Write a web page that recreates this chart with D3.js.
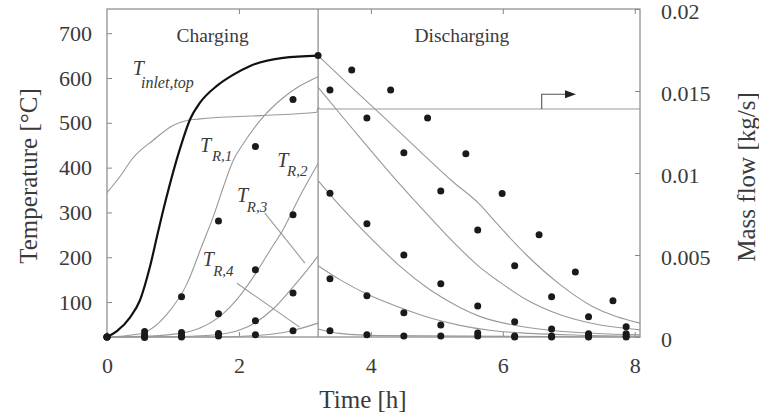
<!DOCTYPE html>
<html lang="en">
<head>
<meta charset="utf-8">
<title>Charging and discharging temperatures</title>
<script src="https://d3js.org/d3.v7.min.js"></script>
<style>
  body { margin: 0; background: #fff; }
  svg text { font-family: 'Liberation Serif', 'Times New Roman', serif; fill: #3a3a3a; }
</style>
</head>
<body>
<div id="chart"></div>
<script>

/* Data */
/* ==== */

// Simulated temperatures, charging (time in h, temperature in °C)
var inletTime = [0, 0.15, 0.35, 0.5, 0.65, 0.77, 0.89, 1.11, 1.26, 1.41, 1.67, 1.91, 2.17, 2.67, 3.2];
var inletTemp = [22, 35, 66, 104, 178, 254, 327, 444, 508, 545, 583, 607, 627, 645, 650];

var simR1Time = [0, 0.35, 0.55, 0.91, 1.21, 1.45, 1.61, 1.76, 1.91, 2.06, 2.32, 2.67, 2.92, 3.2];
var simR1Temp = [22, 26, 31, 73, 140, 230, 290, 355, 415, 452, 505, 556, 582, 603];
var simR2Time = [0, 0.65, 1.11, 1.41, 1.71, 2.02, 2.26, 2.47, 2.67, 2.92, 3.2];
var simR2Temp = [22, 24, 30, 42, 68, 115, 165, 215, 262, 335, 409];
var simR3Time = [0, 1.11, 1.71, 2.02, 2.26, 2.52, 2.77, 3.0, 3.2];
var simR3Temp = [22, 23, 28, 38, 55, 85, 125, 165, 203];
var simR4Time = [0, 1.71, 2.32, 2.77, 3.2];
var simR4Temp = [22, 22, 26, 35, 53];

// Simulated temperatures, discharging
var dis1Time = [3.2, 3.68, 4.18, 4.74, 5.24, 5.65, 5.85, 6.36, 6.86, 7.36, 8.08];
var dis1Temp = [650, 583, 515, 437, 369, 318, 285, 205, 140, 90, 53];
var dis2Time = [3.2, 3.68, 4.39, 4.89, 5.35, 5.65, 5.95, 6.36, 6.86, 7.36, 8.08];
var dis2Temp = [579, 494, 371, 290, 219, 178, 145, 105, 72, 52, 38];
var dis3Time = [3.2, 3.53, 3.83, 4.14, 4.44, 4.89, 5.35, 5.65, 6.26, 6.86, 8.08];
var dis3Temp = [371, 315, 268, 222, 180, 128, 88, 68, 46, 35, 27];
var dis4Time = [3.2, 3.53, 3.98, 4.44, 4.89, 5.35, 5.8, 6.41, 7.17, 8.08];
var dis4Temp = [181, 150, 115, 88, 65, 48, 37, 30, 26, 24];
var dis5Time = [3.2, 3.53, 4.14, 8.08];
var dis5Temp = [40, 30, 25, 22];

// Mass flow (kg/s), right axis
var flowTime  = [0, 0.2, 0.39, 0.7, 1.0, 1.21, 1.41, 2.32, 3.18, 3.2, 3.23, 4.5, 8.08];
var flowValue = [0.0088, 0.0098, 0.0109, 0.0120, 0.0129, 0.0132, 0.0133, 0.0135, 0.0137, 0.0140, 0.0139, 0.0139, 0.0139];

// Measured temperatures (dots)
var measChargeTime = [0, 0.57, 1.13, 1.69, 2.25, 2.82];
var measR1Charge = [22, 34, 112, 281, 447, 552];
var measR2Charge = [22, 26, 32, 74, 172, 295];
var measR3Charge = [22, 23, 25, 30, 58, 120];
var measR4Charge = [22, 21, 22, 24, 27, 36];

var measSwitchTime = [3.2];
var measSwitchTemp = [650];

var measDischargeTime = [3.38, 3.94, 4.5, 5.06, 5.62, 6.18, 6.74, 7.3, 7.87];
var measR1Discharge = [573, 511, 433, 348, 261, 181, 112, 67, 45];
var measR2Discharge = [343, 275, 205, 141, 91, 56, 40, 29, 29];
var measR3Discharge = [152, 114, 76, 49, 31, 24, 24, 24, 24];
var measR4Discharge = [36, 27, 24, 24, 24, 22, 22, 22, 22];

var measTopTime = [3.71, 4.3, 4.86, 5.44, 5.99, 6.55, 7.1, 7.67];
var measTopDischarge = [618, 573, 511, 431, 342, 250, 167, 103];

// Ticks
var tempTicks = [100, 200, 300, 400, 500, 600, 700];
var timeTicks = [0, 2, 4, 6, 8];
var flowTicks = [0, 0.005, 0.01, 0.015, 0.02];

var switchTime = 3.2;


/* Setup */
/* ===== */

var width = 759,
    height = 417,
    plotLeft = 107, plotRight = 640, plotTop = 9, plotBottom = 337;

var svg = d3.select('#chart').append('svg')
    .attr('width', width)
    .attr('height', height);

var x = d3.scaleLinear().domain([0, 8.08]).range([plotLeft, plotRight]);
var y = d3.scaleLinear().domain([22, 754]).range([plotBottom, plotTop]);
var yFlow = d3.scaleLinear().domain([0, 0.02]).range([plotBottom, plotTop]);

var line = d3.line()
    .x(function(d) { return x(d[0]); })
    .y(function(d) { return y(d[1]); })
    .curve(d3.curveMonotoneX);

var flowLine = d3.line()
    .x(function(d) { return x(d[0]); })
    .y(function(d) { return yFlow(d[1]); })
    .curve(d3.curveMonotoneX);

function pairs(a, b) { return a.map(function(v, i) { return [v, b[i]]; }); }


/* Axes and frame */
/* ============== */

function styleAxis(g) {
  g.select('.domain').remove();
  g.selectAll('.tick line').attr('stroke', '#888');
  g.selectAll('.tick text').style('font-size', '22px');
}

svg.append('g')
    .attr('transform', 'translate(' + plotLeft + ',0)')
    .call(d3.axisLeft(y).tickValues(tempTicks).tickSizeInner(-5).tickSizeOuter(0).tickPadding(15))
    .call(styleAxis);

svg.append('g')
    .attr('transform', 'translate(' + plotRight + ',0)')
    .call(d3.axisRight(yFlow).tickValues(flowTicks).tickSizeInner(-5).tickSizeOuter(0).tickPadding(21)
      .tickFormat(function(d) { return String(d); }))
    .call(styleAxis)
    .selectAll('.tick text').attr('dy', '0.45em');

svg.append('g')
    .attr('transform', 'translate(0,' + plotBottom + ')')
    .call(d3.axisBottom(x).tickValues(timeTicks).tickSizeInner(-5).tickSizeOuter(0).tickPadding(20))
    .call(styleAxis);

svg.append('g')
    .attr('transform', 'translate(0,' + plotTop + ')')
    .call(d3.axisTop(x).tickValues(timeTicks.slice(1)).tickSizeInner(-5).tickSizeOuter(0).tickFormat(''))
    .call(styleAxis);

svg.append('rect')
    .attr('x', plotLeft).attr('y', plotTop)
    .attr('width', plotRight - plotLeft).attr('height', plotBottom - plotTop)
    .attr('fill', 'none').attr('stroke', '#888').attr('stroke-width', 1.2);

// charging / discharging divider
svg.append('line')
    .attr('x1', x(switchTime)).attr('x2', x(switchTime))
    .attr('y1', plotTop).attr('y2', plotBottom)
    .attr('stroke', '#888').attr('stroke-width', 1.2);


/* Curves */
/* ====== */

var thinSeries = [
  [simR1Time, simR1Temp], [simR2Time, simR2Temp], [simR3Time, simR3Temp], [simR4Time, simR4Temp],
  [dis1Time, dis1Temp], [dis2Time, dis2Temp], [dis3Time, dis3Temp], [dis4Time, dis4Temp], [dis5Time, dis5Temp]
];

svg.append('g').selectAll('path')
  .data(thinSeries)
  .join('path')
    .attr('d', function(s) { return line(pairs(s[0], s[1])); })
    .attr('fill', 'none')
    .attr('stroke', '#999')
    .attr('stroke-width', 1.1);

svg.append('path')
    .attr('d', flowLine(pairs(flowTime, flowValue)))
    .attr('fill', 'none')
    .attr('stroke', '#999')
    .attr('stroke-width', 1.1);

svg.append('path')
    .attr('d', line(pairs(inletTime, inletTemp)))
    .attr('fill', 'none')
    .attr('stroke', '#111')
    .attr('stroke-width', 2.2);


/* Measured dots */
/* ============= */

var dots = []
  .concat(pairs(measChargeTime, measR1Charge), pairs(measChargeTime, measR2Charge),
          pairs(measChargeTime, measR3Charge), pairs(measChargeTime, measR4Charge),
          pairs(measSwitchTime, measSwitchTemp),
          pairs(measDischargeTime, measR1Discharge), pairs(measDischargeTime, measR2Discharge),
          pairs(measDischargeTime, measR3Discharge), pairs(measDischargeTime, measR4Discharge),
          pairs(measTopTime, measTopDischarge));

svg.append('g').selectAll('circle')
  .data(dots)
  .join('circle')
    .attr('cx', function(d) { return x(d[0]); })
    .attr('cy', function(d) { return y(d[1]); })
    .attr('r', 3.5)
    .attr('fill', '#1a1a1a');


/* Annotations */
/* =========== */

// mass flow arrow
var arrowFoot = [6.59, 0.0139], arrowKnee = [6.59, 0.0148], arrowTip = [7.11, 0.0148];
svg.append('path')
    .attr('d', 'M' + x(arrowFoot[0]) + ',' + yFlow(arrowFoot[1]) +
               'V' + yFlow(arrowKnee[1]) + 'H' + (x(arrowTip[0]) - 8))
    .attr('fill', 'none').attr('stroke', '#555').attr('stroke-width', 1.1);
svg.append('path')
    .attr('d', 'M' + x(arrowTip[0]) + ',' + yFlow(arrowTip[1]) +
               'l-11,-4 v8 z')
    .attr('fill', '#222');

// leader lines from labels
var leaders = [
  [[2.39, 299], [3.0, 187]],
  [[1.97, 142], [2.92, 44]]
];
svg.append('g').selectAll('line')
  .data(leaders)
  .join('line')
    .attr('x1', function(d) { return x(d[0][0]); })
    .attr('y1', function(d) { return y(d[0][1]); })
    .attr('x2', function(d) { return x(d[1][0]); })
    .attr('y2', function(d) { return y(d[1][1]); })
    .attr('stroke', '#999').attr('stroke-width', 1.1);

// T labels with subscripts: [T position, subscript position, subscript text, subscript size]
var tLabels = [
  [[0.39, 606], [0.515, 577], 'inlet,top', 16],
  [[1.41, 435], [1.59, 415], 'R,1', 15],
  [[2.58, 401], [2.73, 381], 'R,2', 15],
  [[1.97, 323], [2.12, 301], 'R,3', 15],
  [[1.45, 180], [1.61, 158], 'R,4', 15]
];

var lab = svg.append('g').selectAll('g')
  .data(tLabels)
  .join('g');

lab.append('text')
    .attr('x', function(d) { return x(d[0][0]); })
    .attr('y', function(d) { return y(d[0][1]); })
    .style('font-size', '20px')
    .style('font-style', 'italic')
    .text('T');

lab.append('text')
    .attr('x', function(d) { return x(d[1][0]); })
    .attr('y', function(d) { return y(d[1][1]); })
    .style('font-size', function(d) { return d[3] + 'px'; })
    .style('font-style', 'italic')
    .text(function(d) { return d[2]; });

// phase labels
svg.append('text')
    .attr('x', x(1.6)).attr('y', 35)
    .attr('text-anchor', 'middle').attr('dominant-baseline', 'central')
    .style('font-size', '19.5px')
    .text('Charging');

svg.append('text')
    .attr('x', x(5.38)).attr('y', 35)
    .attr('text-anchor', 'middle').attr('dominant-baseline', 'central')
    .style('font-size', '19.5px')
    .text('Discharging');

// axis titles
svg.append('text')
    .attr('transform', 'translate(28,' + ((plotTop + plotBottom) / 2 + 3) + ') rotate(-90)')
    .attr('text-anchor', 'middle').attr('dominant-baseline', 'central')
    .style('font-size', '25px')
    .text('Temperature [°C]');

svg.append('text')
    .attr('transform', 'translate(746,' + ((plotTop + plotBottom) / 2 + 4) + ') rotate(-90)')
    .attr('text-anchor', 'middle').attr('dominant-baseline', 'central')
    .style('font-size', '25px')
    .text('Mass flow [kg/s]');

svg.append('text')
    .attr('x', 363).attr('y', 399)
    .attr('text-anchor', 'middle').attr('dominant-baseline', 'central')
    .style('font-size', '25px')
    .text('Time [h]');

</script>
</body>
</html>
